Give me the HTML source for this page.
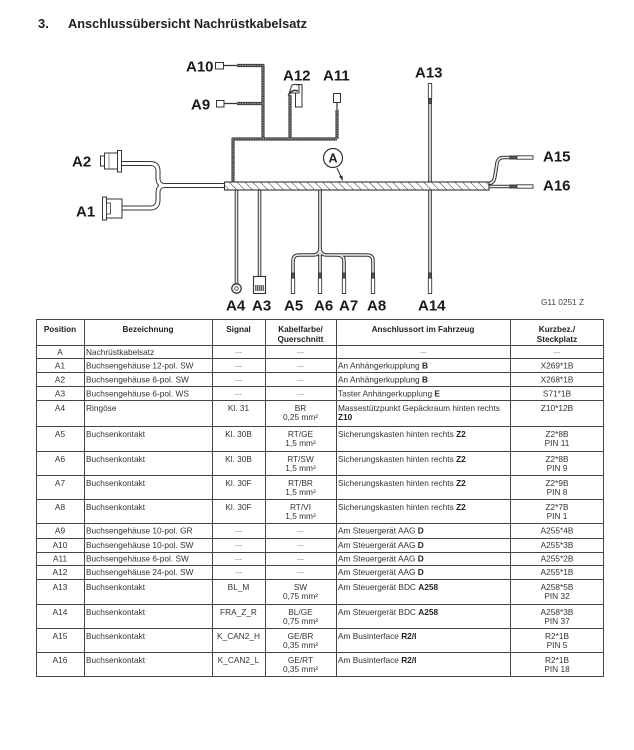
<!DOCTYPE html>
<html><head><meta charset="utf-8">
<style>
html,body{margin:0;padding:0;background:#fff;}
svg{display:block;}
.lb{font-family:"Liberation Sans",Arial,sans-serif;font-weight:bold;font-size:15px;fill:#1a1a1a;}
.t{font-family:"Liberation Sans",Arial,sans-serif;font-size:8.3px;fill:#333;}
.c{text-anchor:middle;}
.h{font-family:"Liberation Sans",Arial,sans-serif;font-size:8.2px;font-weight:bold;fill:#222;text-anchor:middle;}
.d{font-family:"Liberation Sans",Arial,sans-serif;font-size:7px;fill:#777;text-anchor:middle;}
.b{font-weight:bold;fill:#222;}
</style></head>
<body>
<svg width="634" height="750" viewBox="0 0 634 750" xmlns="http://www.w3.org/2000/svg">
<defs>
<pattern id="hatch" patternUnits="userSpaceOnUse" width="5.5" height="8" patternTransform="rotate(-45)">
<line x1="0" y1="0" x2="0" y2="8" stroke="#333" stroke-width="1"/>
</pattern>
</defs>

<!-- Title -->
<text x="38" y="28" font-family="Liberation Sans, Arial, sans-serif" font-weight="bold" font-size="13" fill="#222">3.</text>
<text x="68" y="28" font-family="Liberation Sans, Arial, sans-serif" font-weight="bold" font-size="13" fill="#222" textLength="239" lengthAdjust="spacingAndGlyphs">Anschlussübersicht Nachrüstkabelsatz</text>

<!-- ===== Diagram ===== -->
<!-- top harness -->
<g fill="none" stroke-linejoin="round">
<path d="M237,65.5 H263 V139 M237,103.5 H263 M233,182 V139 H337 M290,95 V139 M337,110 V139" stroke="#444" stroke-width="3.2"/>
<path d="M237,65.5 H263 V139 M237,103.5 H263 M233,182 V139 H337 M290,95 V139 M337,110 V139" stroke="#999" stroke-width="1" stroke-dasharray="1.5 1"/>
<path d="M224,65.5 H237 M224,103.5 H237 M337,102 V110" stroke="#333" stroke-width="1.2"/>
</g>
<rect x="215.5" y="62.5" width="8" height="6.5" fill="#fff" stroke="#333" stroke-width="1"/>
<rect x="216.5" y="100.5" width="7.5" height="6.5" fill="#fff" stroke="#333" stroke-width="1"/>
<rect x="333.5" y="93.5" width="7" height="9" fill="#fff" stroke="#333" stroke-width="1"/>
<!-- A12 connector -->
<path d="M295.5,84.5 H302 V107 H295.5 Z" fill="#fff" stroke="#333" stroke-width="1"/>
<path d="M288.5,95 L291.5,86 Q292.5,84 295.5,84.5 L299,85 L299,93 L291,93 Z" fill="#fff" stroke="#333" stroke-width="1"/>
<path d="M290,93 Q293,89 298,91" fill="none" stroke="#333" stroke-width="1.5"/>

<!-- left cable A1/A2 -->
<g fill="none" stroke-linejoin="round" stroke-linecap="butt">
<path d="M224,185.5 H165 Q158,185.5 158,178 V171 Q158,163.5 150,163.5 H121 M165,185.5 Q158,185.5 158,193 V200 Q158,208 150,208 H122" stroke="#333" stroke-width="5"/>
<path d="M224,185.5 H165 Q158,185.5 158,178 V171 Q158,163.5 150,163.5 H121 M165,185.5 Q158,185.5 158,193 V200 Q158,208 150,208 H122" stroke="#fff" stroke-width="3"/>
</g>
<!-- A2 connector -->
<rect x="100.5" y="156" width="4" height="10" fill="#fff" stroke="#333"/>
<rect x="104.5" y="153" width="13" height="16" fill="#fff" stroke="#333"/>
<rect x="117.5" y="150.5" width="4" height="21.5" fill="#fff" stroke="#333"/>
<line x1="109" y1="153" x2="109" y2="169" stroke="#666" stroke-width="0.7"/>
<!-- A1 connector -->
<rect x="102.5" y="197" width="4" height="23" fill="#fff" stroke="#333"/>
<rect x="106.5" y="199" width="15.5" height="19" fill="#fff" stroke="#333"/>
<rect x="106.5" y="203" width="4" height="11" fill="#fff" stroke="#333" stroke-width="0.8"/>

<!-- bottom wires -->
<g fill="none" stroke-linejoin="round">
<path d="M236.5,190 V283.5 M259.5,190 V277 M320,190 V248 Q320,255 313,255 H299 Q293,255 293,261 V278 M320,248 Q320,255 327,255 H367 Q373,255 373,261 V278 M337,255 Q344,255 344,261 V278 M320,248 V278 M430,103 V278" stroke="#333" stroke-width="3.6"/>
<path d="M236.5,190 V283.5 M259.5,190 V277 M320,190 V248 Q320,255 313,255 H299 Q293,255 293,261 V278 M320,248 Q320,255 327,255 H367 Q373,255 373,261 V278 M337,255 Q344,255 344,261 V278 M320,248 V278 M430,103 V278" stroke="#eee" stroke-width="1.6"/>
</g>
<!-- ring A4 -->
<circle cx="236.5" cy="288.5" r="4.7" fill="#fff" stroke="#333" stroke-width="1.3"/>
<circle cx="236.5" cy="288.5" r="1.8" fill="#fff" stroke="#333" stroke-width="0.8"/>
<!-- A3 connector -->
<rect x="253.5" y="276.5" width="12" height="17" fill="#fff" stroke="#333" stroke-width="1.1"/>
<rect x="255" y="285" width="9" height="6" fill="#666"/>
<path d="M256.5,285 V291 M258.5,285 V291 M260.5,285 V291 M262.5,285 V291" stroke="#ddd" stroke-width="0.6"/>
<!-- terminals bottom -->
<g fill="#fff" stroke="#333" stroke-width="0.9">
<rect x="291.5" y="273" width="3" height="5" fill="#555"/><rect x="291.3" y="278" width="3.4" height="15.5"/>
<rect x="318.5" y="273" width="3" height="5" fill="#555"/><rect x="318.3" y="278" width="3.4" height="15.5"/>
<rect x="342.5" y="273" width="3" height="5" fill="#555"/><rect x="342.3" y="278" width="3.4" height="15.5"/>
<rect x="371.5" y="273" width="3" height="5" fill="#555"/><rect x="371.3" y="278" width="3.4" height="15.5"/>
<rect x="428.5" y="273" width="3" height="5" fill="#555"/><rect x="428.3" y="278" width="3.4" height="15.5"/>
<!-- A13 top terminal -->
<rect x="428.3" y="83.5" width="3.4" height="15"/><rect x="428.5" y="98.5" width="3" height="5" fill="#555"/>
</g>

<!-- right cables -->
<g fill="none" stroke-linejoin="round">
<path d="M489,186.5 H511 M489,183.5 Q494,183 495,176 L497,163 Q498,157.5 504,157.5 H511" stroke="#333" stroke-width="3.6"/>
<path d="M489,186.5 H511 M489,183.5 Q494,183 495,176 L497,163 Q498,157.5 504,157.5 H511" stroke="#eee" stroke-width="1.6"/>
</g>
<g fill="#fff" stroke="#333" stroke-width="0.9">
<rect x="510" y="156" width="7" height="3" fill="#555"/><rect x="517" y="155.8" width="16" height="3.4"/>
<rect x="510" y="185" width="7" height="3" fill="#555"/><rect x="517" y="184.8" width="16" height="3.4"/>
</g>

<!-- main bundle -->
<rect x="224.5" y="182" width="264.5" height="8" fill="#fff"/>
<rect x="224.5" y="182" width="264.5" height="8" fill="url(#hatch)" stroke="#333" stroke-width="1.1"/>

<!-- A marker -->
<circle cx="333" cy="158" r="9.5" fill="#fff" stroke="#333" stroke-width="1.2"/>
<text x="333" y="162.5" text-anchor="middle" font-family="Liberation Sans, Arial, sans-serif" font-weight="bold" font-size="12.5" fill="#222">A</text>
<path d="M337,168 L341,177" stroke="#333" stroke-width="1" fill="none"/>
<path d="M343,181 L339,176.5 L342.5,175.5 Z" fill="#333"/>

<!-- labels -->
<text class="lb" x="186" y="71.5">A10</text>
<text class="lb" x="191" y="109.5">A9</text>
<text class="lb" x="283" y="80.5">A12</text>
<text class="lb" x="323" y="80.5">A11</text>
<text class="lb" x="415" y="77.5">A13</text>
<text class="lb" x="72" y="166.5">A2</text>
<text class="lb" x="76" y="216.5">A1</text>
<text class="lb" x="543" y="161.5">A15</text>
<text class="lb" x="543" y="190.5">A16</text>
<text class="lb" x="226" y="310.5">A4</text>
<text class="lb" x="252" y="310.5">A3</text>
<text class="lb" x="284" y="310.5">A5</text>
<text class="lb" x="314" y="310.5">A6</text>
<text class="lb" x="339" y="310.5">A7</text>
<text class="lb" x="367" y="310.5">A8</text>
<text class="lb" x="418" y="310.5">A14</text>
<text x="541" y="305" font-family="Liberation Sans, Arial, sans-serif" font-size="8.4" fill="#444" textLength="43" lengthAdjust="spacingAndGlyphs">G11 0251 Z</text>

<!-- ===== Table ===== -->
<g stroke="#444" stroke-width="1" fill="none" shape-rendering="crispEdges">
<rect x="36.5" y="319.5" width="567" height="357" stroke-width="1.2"/>
<path d="M84.5,319.5 V676.5 M212.5,319.5 V676.5 M265.5,319.5 V676.5 M336.5,319.5 V676.5 M510.5,319.5 V676.5"/>
<path d="M36,345.5 H604 M36,358.5 H604 M36,372.5 H604 M36,386.5 H604 M36,400.5 H604 M36,426.5 H604 M36,451.5 H604 M36,475.5 H604 M36,499.5 H604 M36,523.5 H604 M36,538.5 H604 M36,552.5 H604 M36,565.5 H604 M36,579.5 H604 M36,604.5 H604 M36,628.5 H604 M36,652.5 H604"/>
</g>

<!-- header -->
<text class="h" x="60" y="332">Position</text>
<text class="h" x="148" y="332">Bezeichnung</text>
<text class="h" x="238.5" y="332">Signal</text>
<text class="h" x="300.5" y="332">Kabelfarbe/</text>
<text class="h" x="300.5" y="342">Querschnitt</text>
<text class="h" x="423" y="332">Anschlussort im Fahrzeug</text>
<text class="h" x="557" y="332">Kurzbez./</text>
<text class="h" x="557" y="342">Steckplatz</text>

<!-- Row A 345-358 -->
<text class="t c" x="60" y="355">A</text>
<text class="t" x="86" y="355">Nachrüstkabelsatz</text>
<text class="d" x="238.5" y="355">---</text>
<text class="d" x="300.5" y="355">---</text>
<text class="d" x="423" y="355">---</text>
<text class="d" x="557" y="355">---</text>

<!-- A1 358-372 -->
<text class="t c" x="60" y="368.5">A1</text>
<text class="t" x="86" y="368.5">Buchsengehäuse 12-pol. SW</text>
<text class="d" x="238.5" y="368.5">---</text>
<text class="d" x="300.5" y="368.5">---</text>
<text class="t" x="338" y="368.5">An Anhängerkupplung <tspan class="b">B</tspan></text>
<text class="t c" x="557" y="368.5">X269*1B</text>

<!-- A2 372-386 -->
<text class="t c" x="60" y="382.5">A2</text>
<text class="t" x="86" y="382.5">Buchsengehäuse 6-pol. SW</text>
<text class="d" x="238.5" y="382.5">---</text>
<text class="d" x="300.5" y="382.5">---</text>
<text class="t" x="338" y="382.5">An Anhängerkupplung <tspan class="b">B</tspan></text>
<text class="t c" x="557" y="382.5">X268*1B</text>

<!-- A3 386-400 -->
<text class="t c" x="60" y="396.5">A3</text>
<text class="t" x="86" y="396.5">Buchsengehäuse 6-pol. WS</text>
<text class="d" x="238.5" y="396.5">---</text>
<text class="d" x="300.5" y="396.5">---</text>
<text class="t" x="338" y="396.5">Taster Anhängerkupplung <tspan class="b">E</tspan></text>
<text class="t c" x="557" y="396.5">S71*1B</text>

<!-- A4 400-426 -->
<text class="t c" x="60" y="411">A4</text>
<text class="t" x="86" y="411">Ringöse</text>
<text class="t c" x="238.5" y="411">Kl. 31</text>
<text class="t c" x="300.5" y="411">BR</text>
<text class="t c" x="300.5" y="420">0,25 mm²</text>
<text class="t" x="338" y="411">Massestützpunkt Gepäckraum hinten rechts</text>
<text class="t b" x="338" y="420">Z10</text>
<text class="t c" x="557" y="411">Z10*12B</text>

<!-- A5 426-451 -->
<text class="t c" x="60" y="437">A5</text>
<text class="t" x="86" y="437">Buchsenkontakt</text>
<text class="t c" x="238.5" y="437">Kl. 30B</text>
<text class="t c" x="300.5" y="437">RT/GE</text>
<text class="t c" x="300.5" y="446">1,5 mm²</text>
<text class="t" x="338" y="437">Sicherungskasten hinten rechts <tspan class="b">Z2</tspan></text>
<text class="t c" x="557" y="437">Z2*8B</text>
<text class="t c" x="557" y="446">PIN 11</text>

<!-- A6 451-475 -->
<text class="t c" x="60" y="462">A6</text>
<text class="t" x="86" y="462">Buchsenkontakt</text>
<text class="t c" x="238.5" y="462">Kl. 30B</text>
<text class="t c" x="300.5" y="462">RT/SW</text>
<text class="t c" x="300.5" y="471">1,5 mm²</text>
<text class="t" x="338" y="462">Sicherungskasten hinten rechts <tspan class="b">Z2</tspan></text>
<text class="t c" x="557" y="462">Z2*8B</text>
<text class="t c" x="557" y="471">PIN 9</text>

<!-- A7 475-499 -->
<text class="t c" x="60" y="486">A7</text>
<text class="t" x="86" y="486">Buchsenkontakt</text>
<text class="t c" x="238.5" y="486">Kl. 30F</text>
<text class="t c" x="300.5" y="486">RT/BR</text>
<text class="t c" x="300.5" y="495">1,5 mm²</text>
<text class="t" x="338" y="486">Sicherungskasten hinten rechts <tspan class="b">Z2</tspan></text>
<text class="t c" x="557" y="486">Z2*9B</text>
<text class="t c" x="557" y="495">PIN 8</text>

<!-- A8 499-523 -->
<text class="t c" x="60" y="510">A8</text>
<text class="t" x="86" y="510">Buchsenkontakt</text>
<text class="t c" x="238.5" y="510">Kl. 30F</text>
<text class="t c" x="300.5" y="510">RT/VI</text>
<text class="t c" x="300.5" y="519">1,5 mm²</text>
<text class="t" x="338" y="510">Sicherungskasten hinten rechts <tspan class="b">Z2</tspan></text>
<text class="t c" x="557" y="510">Z2*7B</text>
<text class="t c" x="557" y="519">PIN 1</text>

<!-- A9 523-538 -->
<text class="t c" x="60" y="533.5">A9</text>
<text class="t" x="86" y="533.5">Buchsengehäuse 10-pol. GR</text>
<text class="d" x="238.5" y="533.5">---</text>
<text class="d" x="300.5" y="533.5">---</text>
<text class="t" x="338" y="533.5">Am Steuergerät AAG <tspan class="b">D</tspan></text>
<text class="t c" x="557" y="533.5">A255*4B</text>

<!-- A10 538-552 -->
<text class="t c" x="60" y="548">A10</text>
<text class="t" x="86" y="548">Buchsengehäuse 10-pol. SW</text>
<text class="d" x="238.5" y="548">---</text>
<text class="d" x="300.5" y="548">---</text>
<text class="t" x="338" y="548">Am Steuergerät AAG <tspan class="b">D</tspan></text>
<text class="t c" x="557" y="548">A255*3B</text>

<!-- A11 552-565 -->
<text class="t c" x="60" y="561.5">A11</text>
<text class="t" x="86" y="561.5">Buchsengehäuse 6-pol. SW</text>
<text class="d" x="238.5" y="561.5">---</text>
<text class="d" x="300.5" y="561.5">---</text>
<text class="t" x="338" y="561.5">Am Steuergerät AAG <tspan class="b">D</tspan></text>
<text class="t c" x="557" y="561.5">A255*2B</text>

<!-- A12 565-579 -->
<text class="t c" x="60" y="575">A12</text>
<text class="t" x="86" y="575">Buchsengehäuse 24-pol. SW</text>
<text class="d" x="238.5" y="575">---</text>
<text class="d" x="300.5" y="575">---</text>
<text class="t" x="338" y="575">Am Steuergerät AAG <tspan class="b">D</tspan></text>
<text class="t c" x="557" y="575">A255*1B</text>

<!-- A13 579-604 -->
<text class="t c" x="60" y="590">A13</text>
<text class="t" x="86" y="590">Buchsenkontakt</text>
<text class="t c" x="238.5" y="590">BL_M</text>
<text class="t c" x="300.5" y="590">SW</text>
<text class="t c" x="300.5" y="599">0,75 mm²</text>
<text class="t" x="338" y="590">Am Steuergerät BDC <tspan class="b">A258</tspan></text>
<text class="t c" x="557" y="590">A258*5B</text>
<text class="t c" x="557" y="599">PIN 32</text>

<!-- A14 604-628 -->
<text class="t c" x="60" y="615">A14</text>
<text class="t" x="86" y="615">Buchsenkontakt</text>
<text class="t c" x="238.5" y="615">FRA_Z_R</text>
<text class="t c" x="300.5" y="615">BL/GE</text>
<text class="t c" x="300.5" y="624">0,75 mm²</text>
<text class="t" x="338" y="615">Am Steuergerät BDC <tspan class="b">A258</tspan></text>
<text class="t c" x="557" y="615">A258*3B</text>
<text class="t c" x="557" y="624">PIN 37</text>

<!-- A15 628-652 -->
<text class="t c" x="60" y="639">A15</text>
<text class="t" x="86" y="639">Buchsenkontakt</text>
<text class="t c" x="238.5" y="639">K_CAN2_H</text>
<text class="t c" x="300.5" y="639">GE/BR</text>
<text class="t c" x="300.5" y="648">0,35 mm²</text>
<text class="t" x="338" y="639">Am Businterface <tspan class="b">R2/I</tspan></text>
<text class="t c" x="557" y="639">R2*1B</text>
<text class="t c" x="557" y="648">PIN 5</text>

<!-- A16 652-676 -->
<text class="t c" x="60" y="663">A16</text>
<text class="t" x="86" y="663">Buchsenkontakt</text>
<text class="t c" x="238.5" y="663">K_CAN2_L</text>
<text class="t c" x="300.5" y="663">GE/RT</text>
<text class="t c" x="300.5" y="672">0,35 mm²</text>
<text class="t" x="338" y="663">Am Businterface <tspan class="b">R2/I</tspan></text>
<text class="t c" x="557" y="663">R2*1B</text>
<text class="t c" x="557" y="672">PIN 18</text>
</svg>
</body></html>
